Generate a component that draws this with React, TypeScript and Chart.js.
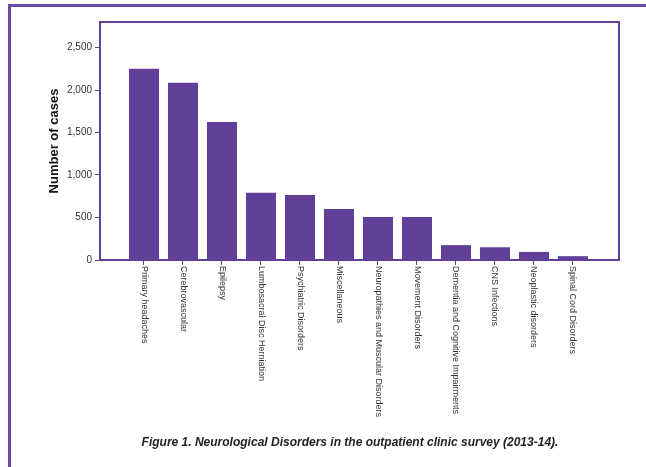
import React, { useEffect, useRef } from "react";
import { Chart, registerables } from "chart.js";

Chart.register(...registerables);

const categories: string[] = [
  "Primary headaches",
  "Cerebrovascular",
  "Epilepsy",
  "Lumbosacral Disc Herniation",
  "Psychiatric Disorders",
  "Miscellaneous",
  "Neuropathies and Muscular Disorders",
  "Movement Disorders",
  "Dementia and Cognitive Impairments",
  "CNS Infections",
  "Neoplastic disorders",
  "Spinal Cord Disorders",
];

const cases: number[] = [2250, 2085, 1625, 790, 765, 600, 505, 505, 175, 150, 95, 45];

const yTickValues: number[] = [0, 500, 1000, 1500, 2000, 2500];

const yTitle = "Number of cases";
const caption = "Figure 1. Neurological Disorders in the outpatient clinic survey (2013-14).";

const PURPLE = "#603f98";
const FRAME = "#6a4aa6";
const FONT = "'Liberation Sans', Arial, Helvetica, sans-serif";

const boxAndLabels = {
  id: "boxAndLabels",
  afterDraw(chart: any) {
    const { ctx, chartArea } = chart;
    const xs = chart.scales.x;
    ctx.save();
    ctx.strokeStyle = PURPLE;
    ctx.lineWidth = 2;
    ctx.beginPath();
    ctx.moveTo(chartArea.left, chartArea.top);
    ctx.lineTo(chartArea.right, chartArea.top);
    ctx.lineTo(chartArea.right, chartArea.bottom);
    ctx.stroke();
    ctx.fillStyle = "#333333";
    ctx.font = `9px ${FONT}`;
    ctx.textAlign = "left";
    ctx.textBaseline = "middle";
    categories.forEach((label, i) => {
      const x = xs.getPixelForValue(i);
      ctx.save();
      ctx.translate(x, chartArea.bottom + 6);
      ctx.rotate(Math.PI / 2);
      ctx.fillText(label, 0, 0);
      ctx.restore();
    });
    ctx.restore();
  },
};

export default function App() {
  const ref = useRef<HTMLCanvasElement | null>(null);

  useEffect(() => {
    document.body.style.margin = "0";
    if (!ref.current) return;
    const chart = new Chart(ref.current, {
      type: "bar",
      data: {
        datasets: [
          {
            label: yTitle,
            data: cases.map((v, i) => ({ x: i, y: v })),
            backgroundColor: PURPLE,
            borderWidth: 0,
            categoryPercentage: 1,
            barPercentage: 0.77,
          },
        ],
      },
      options: {
        animation: false,
        responsive: false,
        maintainAspectRatio: false,
        layout: { padding: { left: 0, right: 27, top: 22, bottom: 0 } },
        plugins: {
          legend: { display: false },
          tooltip: { enabled: false },
        },
        scales: {
          x: {
            type: "linear",
            offset: false,
            min: -1.128,
            max: 12.18,
            afterBuildTicks: (scale: any) => {
              scale.ticks = categories.map((_, i) => ({ value: i }));
            },
            afterFit: (scale: any) => {
              scale.height = 207;
            },
            ticks: { display: false },
            grid: {
              offset: false,
              drawOnChartArea: false,
              drawTicks: true,
              tickLength: 5,
              color: PURPLE,
              lineWidth: 1,
            },
            border: { display: true, color: PURPLE, width: 2 },
          },
          y: {
            min: 0,
            max: 2800,
            afterBuildTicks: (scale: any) => {
              scale.ticks = yTickValues.map((v) => ({ value: v }));
            },
            afterFit: (scale: any) => {
              scale.width = 100;
            },
            ticks: {
              color: "#333333",
              font: { family: FONT, size: 10 },
              padding: 3,
              callback: (v: any) => Number(v).toLocaleString("en-US"),
            },
            grid: {
              drawOnChartArea: false,
              drawTicks: true,
              tickLength: 5,
              color: PURPLE,
              lineWidth: 1,
            },
            border: { display: true, color: PURPLE, width: 2 },
            title: {
              display: true,
              text: yTitle,
              color: "#111111",
              font: { family: FONT, size: 13, weight: "bold" },
              padding: { top: 47, bottom: 0 },
            },
          },
        },
      },
      plugins: [boxAndLabels],
    });
    return () => chart.destroy();
  }, []);

  return (
    <div style={{ position: "fixed", left: 0, top: 0, width: 646, height: 467, background: "#fff", overflow: "hidden" }}>
      <div
        style={{
          position: "absolute",
          left: 8,
          top: 4,
          width: 700,
          height: 500,
          borderTop: `3px solid ${FRAME}`,
          borderLeft: `3px solid ${FRAME}`,
          boxSizing: "border-box",
        }}
      />
      <canvas ref={ref} width={646} height={467} style={{ position: "absolute", left: 0, top: 0 }} />
      <div
        style={{
          position: "absolute",
          left: 0,
          width: 700,
          top: 435,
          textAlign: "center",
          fontFamily: FONT,
          fontSize: 12,
          lineHeight: "14px",
          fontWeight: "bold",
          fontStyle: "italic",
          color: "#222",
        }}
      >
        {caption}
      </div>
    </div>
  );
}
